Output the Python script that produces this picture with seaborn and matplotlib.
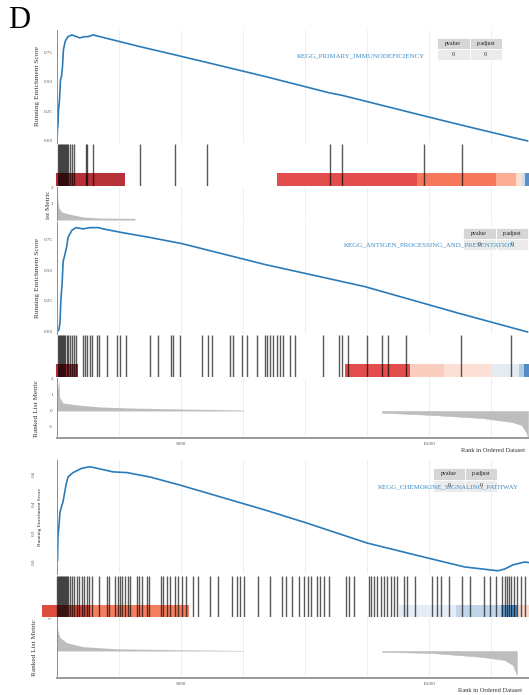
import numpy as np
import pandas as pd
import matplotlib
matplotlib.use('Agg')
import matplotlib.pyplot as plt
import seaborn as sns

# ---------------- data ----------------
# panel 1
p1_name = 'KEGG_PRIMARY_IMMUNODEFICIENCY'
p1_es_rank = [0, 20, 40, 60, 100, 140, 180, 220, 260, 330, 440, 600, 920, 1100, 1250, 1450,
              3345, 4755, 6045, 8400, 11000, 11490, 14790, 16320, 18980]
p1_es = [0.0, 0.10, 0.14, 0.26, 0.35, 0.52, 0.55, 0.63, 0.78, 0.85, 0.89, 0.905, 0.88, 0.89, 0.89, 0.905,
         0.805, 0.735, 0.67, 0.55, 0.41, 0.39, 0.215, 0.135, 0.0]
p1_hits = [40, 81, 121, 161, 202, 242, 282, 322, 363, 403, 443, 524, 605, 685,
           1169, 1209, 1451, 3345, 4755, 6045, 11002, 11486, 14790, 16322]
p1_pos_rank = [0, 40, 80, 200, 400, 1050, 1740, 3060, 3140]
p1_pos = [2.0, 1.1, 0.75, 0.5, 0.4, 0.19, 0.12, 0.1, 0.1]
p1_neg_rank = []
p1_neg = []
p1_bar_start = [-40, 8866, 14508, 17692, 18498, 18740, 18860]
p1_bar_end = [2740, 14508, 17692, 18498, 18740, 18860, 19100]
p1_bar_color = ['#AE1A22', '#E0393A', '#F4694A', '#FCA487', '#FDDBC7', '#C6DBEF', '#4A84BF']

# panel 2
p2_name = 'KEGG_ANTIGEN_PROCESSING_AND_PRESENTATION'
p2_es_rank = [0, 80, 121, 161, 202, 242, 260, 282, 363, 403, 443, 605, 766, 1048, 1330, 1693, 1854,
              2620, 3748, 5038, 8382, 12412, 16160, 18256, 18980]
p2_es = [0.0, 0.02, 0.08, 0.28, 0.38, 0.55, 0.59, 0.60, 0.67, 0.71, 0.77, 0.83, 0.85, 0.84, 0.85, 0.85, 0.84,
         0.81, 0.77, 0.72, 0.55, 0.37, 0.155, 0.04, 0.0]
p2_hits = [40, 81, 121, 161, 202, 242, 282, 322, 403, 443, 524, 605, 685, 766,
           1048, 1128, 1209, 1330, 1411, 1612, 1693, 2015, 2418, 2539, 2781, 3748, 4070, 4594, 4675,
           4957, 5844, 6085, 6247, 6972, 7093, 7456, 7657, 8060, 8382, 8463, 8584, 8705, 8866, 8987,
           9108, 9390, 9591, 10720, 11365, 11486, 11727, 12493, 13098, 13339, 14065, 16281, 18296]
p2_pos_rank = [0, 80, 100, 160, 240, 800, 1735, 3060, 5040, 7500]
p2_pos = [1.1, 2.0, 0.9, 0.7, 0.5, 0.38, 0.25, 0.18, 0.12, 0.06]
p2_neg_rank = [13100, 15110, 17130, 18340, 18740, 18940, 18990]
p2_neg = [-0.1, -0.25, -0.44, -0.69, -0.88, -1.4, -1.7]
p2_bar_start = [-40, 11606, 14226, 15596, 17490, 18619, 18820]
p2_bar_end = [845, 14226, 15596, 17490, 18619, 18820, 19100]
p2_bar_color = ['#AE1A22', '#E0393A', '#FAC9B8', '#FCDDD2', '#E4E9F2', '#A6C8E3', '#3F7FBF']

# panel 3
p3_name = 'KEGG_CHEMOKINE_SIGNALING_PATHWAY'
p3_es_rank = [0, 20, 40, 81, 121, 202, 242, 363, 443, 645, 1008, 1330, 1733, 2257, 2821, 3748, 4957,
              8382, 9994, 12493, 14951, 16442, 17772, 18054, 18377, 18860, 19062]
p3_es = [0.0, 0.01, 0.18, 0.25, 0.34, 0.39, 0.41, 0.525, 0.58, 0.61, 0.64, 0.65, 0.635, 0.615, 0.61, 0.58, 0.525,
         0.355, 0.27, 0.13, 0.027, -0.034, -0.06, -0.048, -0.02, 0.0, -0.005]
p3_hits = [0, 40, 81, 121, 161, 202, 242, 282, 322, 363, 403, 443, 524, 605, 685, 806, 887, 1008, 1088,
           1209, 1290, 1411, 1693, 2015, 2096, 2337, 2458, 2539, 2620, 2740, 2861, 2942, 3224, 3305,
           3426, 3627, 3708, 4191, 4272, 4433, 4554, 4755, 4876, 5038, 5199, 5481, 5682, 6166, 6488,
           7053, 7254, 7375, 7536, 8100, 8584, 9068, 9229, 9471, 9753, 9954, 10115, 10236, 10478,
           10599, 10760, 10962, 11647, 11768, 11969, 12574, 12654, 12775, 12896, 13057, 13178, 13299,
           13460, 13581, 13702, 13984, 14105, 14427, 15113, 15314, 15475, 15798, 16322, 16644, 17208,
           17450, 17692, 17934, 18054, 18135, 18216, 18296, 18417, 18538, 18699, 18860]
p3_pos_rank = [0, 120, 400, 1050, 2420, 4960, 7500]
p3_pos = [1.4, 0.8, 0.5, 0.26, 0.13, 0.07, 0.03]
p3_neg_rank = [13100, 15110, 17130, 18050, 18380, 18540]
p3_neg = [-0.05, -0.12, -0.36, -0.55, -0.85, -1.45]
p3_bar_start = [-605, 1330, 13783, 16080, 17893, 18296, 18538]
p3_bar_end = [1330, 5320, 16080, 17893, 18296, 18538, 19100]
p3_bar_color = ['#D93A2B', '#F5704F', '#E4EAF4', '#B9D1E7', '#5C9BD1', '#3A7DBE', '#FBD6C7']

table_cols = ['pvalue', 'p.adjust']
table_vals = ['0', '0']
x_ticks = [5000, 15000]
x_ticklabels = ['5000', '15000']
grid_ticks = [2500, 5000, 7500, 10000, 12500, 15000, 17500, 20000]

# ---------------- layout ----------------
sns.set_theme(style='white')
plt.rcParams['font.family'] = ['Liberation Serif', 'DejaVu Serif']

W, H = 529, 695
X0, K = 57, 40.3          # pixel of rank 0 and ranks per pixel
RIGHT = 553
fig = plt.figure(figsize=(W / 100, H / 100), dpi=100)

LINE = '#2B7BB9'
TXT = '#3B8DC4'
AXC = '#8C8C8C'
TICK_FS = 3.6


def add_ax(l, t, r, b):
    ax = fig.add_axes([l / W, 1 - b / H, (r - l) / W, (b - t) / H])
    ax.set_xlim((l - X0) * K, (r - X0) * K)
    ax.set_facecolor('none')
    for s in ax.spines.values():
        s.set_visible(False)
    return ax


def vgrid(ax):
    ax.set_xticks(grid_ticks, minor=True)
    ax.xaxis.grid(True, which='both', color='#EBEBEB', lw=0.6)
    ax.set_axisbelow(True)


panels = [
    dict(name=p1_name, es_rank=p1_es_rank, es=p1_es, hits=p1_hits,
         pos_rank=p1_pos_rank, pos=p1_pos, neg_rank=p1_neg_rank, neg=p1_neg,
         bs=p1_bar_start, be=p1_bar_end, bc=p1_bar_color,
         es_box=(30, 143), es_ylim=(-0.017, 0.947), es_ticks=[0, 0.25, 0.5, 0.75], fmt='{:.2f}',
         rug_box=(144, 186), rug_left=55, bar_h=0.31,
         met_box=(187, 220), met_ylim=(0, 2.06), met_ticks=[1, 2], xaxis=False, rot=0,
         table=(437, 38, 502, 60), name_xy=(361, 56), es_lab_x=37, met_lab_x=37),
    dict(name=p2_name, es_rank=p2_es_rank, es=p2_es, hits=p2_hits,
         pos_rank=p2_pos_rank, pos=p2_pos, neg_rank=p2_neg_rank, neg=p2_neg,
         bs=p2_bar_start, be=p2_bar_end, bc=p2_bar_color,
         es_box=(222, 334), es_ylim=(-0.016, 0.896), es_ticks=[0, 0.25, 0.5, 0.75], fmt='{:.2f}',
         rug_box=(335, 377), rug_left=55, bar_h=0.31,
         met_box=(378, 438), met_ylim=(-1.69, 2.06), met_ticks=[-1, 0, 1, 2], xaxis=True, rot=0,
         table=(463, 228, 528, 250), name_xy=(429, 245), es_lab_x=37, met_lab_x=37,
         rank_xy=(493, 451)),
    dict(name=p3_name, es_rank=p3_es_rank, es=p3_es, hits=p3_hits,
         pos_rank=p3_pos_rank, pos=p3_pos, neg_rank=p3_neg_rank, neg=p3_neg,
         bs=p3_bar_start, be=p3_bar_end, bc=p3_bar_color,
         es_box=(460, 574), es_ylim=(-0.082, 0.696), es_ticks=[0, 0.2, 0.4, 0.6], fmt='{:.1f}',
         rug_box=(576, 617), rug_left=40, bar_h=0.29,
         met_box=(617, 678), met_ylim=(-1.64, 2.06), met_ticks=[2], xaxis=True, rot=90,
         table=(433, 468, 497, 492), name_xy=(448, 487), es_lab_x=40, met_lab_x=35,
         rank_xy=(490, 690)),
]

for p in panels:
    # running enrichment score
    t, b = p['es_box']
    ax = add_ax(X0, t, RIGHT, b)
    vgrid(ax)
    sns.lineplot(x=p['es_rank'], y=p['es'], ax=ax, color=LINE, lw=1.2, sort=False, estimator=None)
    ax.set_ylim(*p['es_ylim'])
    ax.set_xticks(x_ticks)
    ax.tick_params(axis='x', which='both', length=0, labelbottom=False)
    ax.set_yticks(p['es_ticks'])
    ax.set_yticklabels([p['fmt'].format(v) for v in p['es_ticks']], rotation=p['rot'],
                       va='center', fontsize=TICK_FS, color='#555555')
    ax.tick_params(axis='y', length=1.5, width=0.4, color=AXC,
                   pad=1.5 if p['rot'] == 0 else 13.5)
    ax.spines['left'].set_visible(True)
    ax.spines['left'].set_color(AXC)
    ax.spines['left'].set_linewidth(0.7)
    fig.text(p['es_lab_x'] / W, 1 - (t + b) / 2 / H, 'Running Enrichment Score', rotation=90,
             ha='center', va='center', fontsize=5.2 if p['rot'] == 0 else 3.9, color='#333333')

    # p-value table and gene set name
    tl, tt, tr, tb = p['table']
    tbl = ax.table(cellText=[table_vals], colLabels=table_cols, cellLoc='center',
                   colColours=['#D6D6D6'] * 2, cellColours=[['#EBEBEB'] * 2],
                   bbox=[(tl - X0) / (RIGHT - X0), (b - tb) / (b - t),
                         (tr - tl) / (RIGHT - X0), (tb - tt) / (b - t)])
    tbl.auto_set_font_size(False)
    tbl.set_fontsize(4.2)
    for cell in tbl.get_celld().values():
        cell.set_edgecolor('white')
        cell.set_linewidth(0.6)
        cell.get_text().set_color('#222222')
    tbl.set_zorder(5)
    nx, ny = p['name_xy']
    fig.text(nx / W, 1 - ny / H, p['name'], ha='center', va='center', fontsize=5.0,
             color=TXT, zorder=10)

    # gene hits and coloured ranking bar
    t, b = p['rug_box']
    rug = add_ax(p['rug_left'], t, RIGHT, b)
    rug.set_ylim(0, 1)
    sns.rugplot(x=p['hits'], height=1, ax=rug, color='black', alpha=0.65, lw=0.85,
                expand_margins=False)
    rug.bar(p['bs'], p['bar_h'], width=np.subtract(p['be'], p['bs']), bottom=0, align='edge',
            color=p['bc'], alpha=0.9, lw=0)
    rug.set_xticks([])
    rug.set_yticks([])

    # ranked list metric
    t, b = p['met_box']
    met = add_ax(X0, t, RIGHT, b)
    vgrid(met)
    met.fill_between(p['pos_rank'], 0, p['pos'], color='#BDBDBD', lw=0)
    if p['neg_rank']:
        met.fill_between(p['neg_rank'], 0, p['neg'], color='#BDBDBD', lw=0.4, edgecolor='#BDBDBD')
    met.set_ylim(*p['met_ylim'])
    met.set_yticks(p['met_ticks'])
    met.set_yticklabels([str(v) for v in p['met_ticks']], rotation=p['rot'], va='center',
                        fontsize=TICK_FS, color='#555555')
    met.tick_params(axis='y', length=1.5, width=0.4, color=AXC, pad=1.5)
    met.spines['left'].set_visible(True)
    met.spines['left'].set_color(AXC)
    met.spines['left'].set_linewidth(0.7)
    met.set_xticks(x_ticks)
    if p['xaxis']:
        met.set_xticklabels(x_ticklabels, fontsize=TICK_FS, color='#555555')
        met.tick_params(axis='x', which='major', length=2, width=0.5, color=AXC, pad=1)
        met.tick_params(axis='x', which='minor', length=0)
        met.spines['bottom'].set_visible(True)
        met.spines['bottom'].set_color('#9A9A9A')
        met.spines['bottom'].set_linewidth(1.4)
        rx, ry = p['rank_xy']
        fig.text(rx / W, 1 - ry / H, 'Rank in Ordered Dataset', ha='center', va='center',
                 fontsize=4.6, color='#333333')
        fig.text(p['met_lab_x'] / W, 1 - (t + b) / 2 / H, 'Ranked List Metric', rotation=90,
                 ha='center', va='center', fontsize=5.2, color='#333333')
    else:
        met.tick_params(axis='x', which='both', length=0, labelbottom=False)
        # only the top of this label is left in the picture, the panel below cuts it
        fig.text(48 / W, 1 - 190 / H, 'ist Metric', rotation=90,
                 ha='center', va='top', fontsize=5.2, color='#333333')

fig.text(8 / W, 1 - 6 / H, 'D', fontsize=22, va='top', ha='left', color='black')

fig.savefig('out.png', dpi=100)
